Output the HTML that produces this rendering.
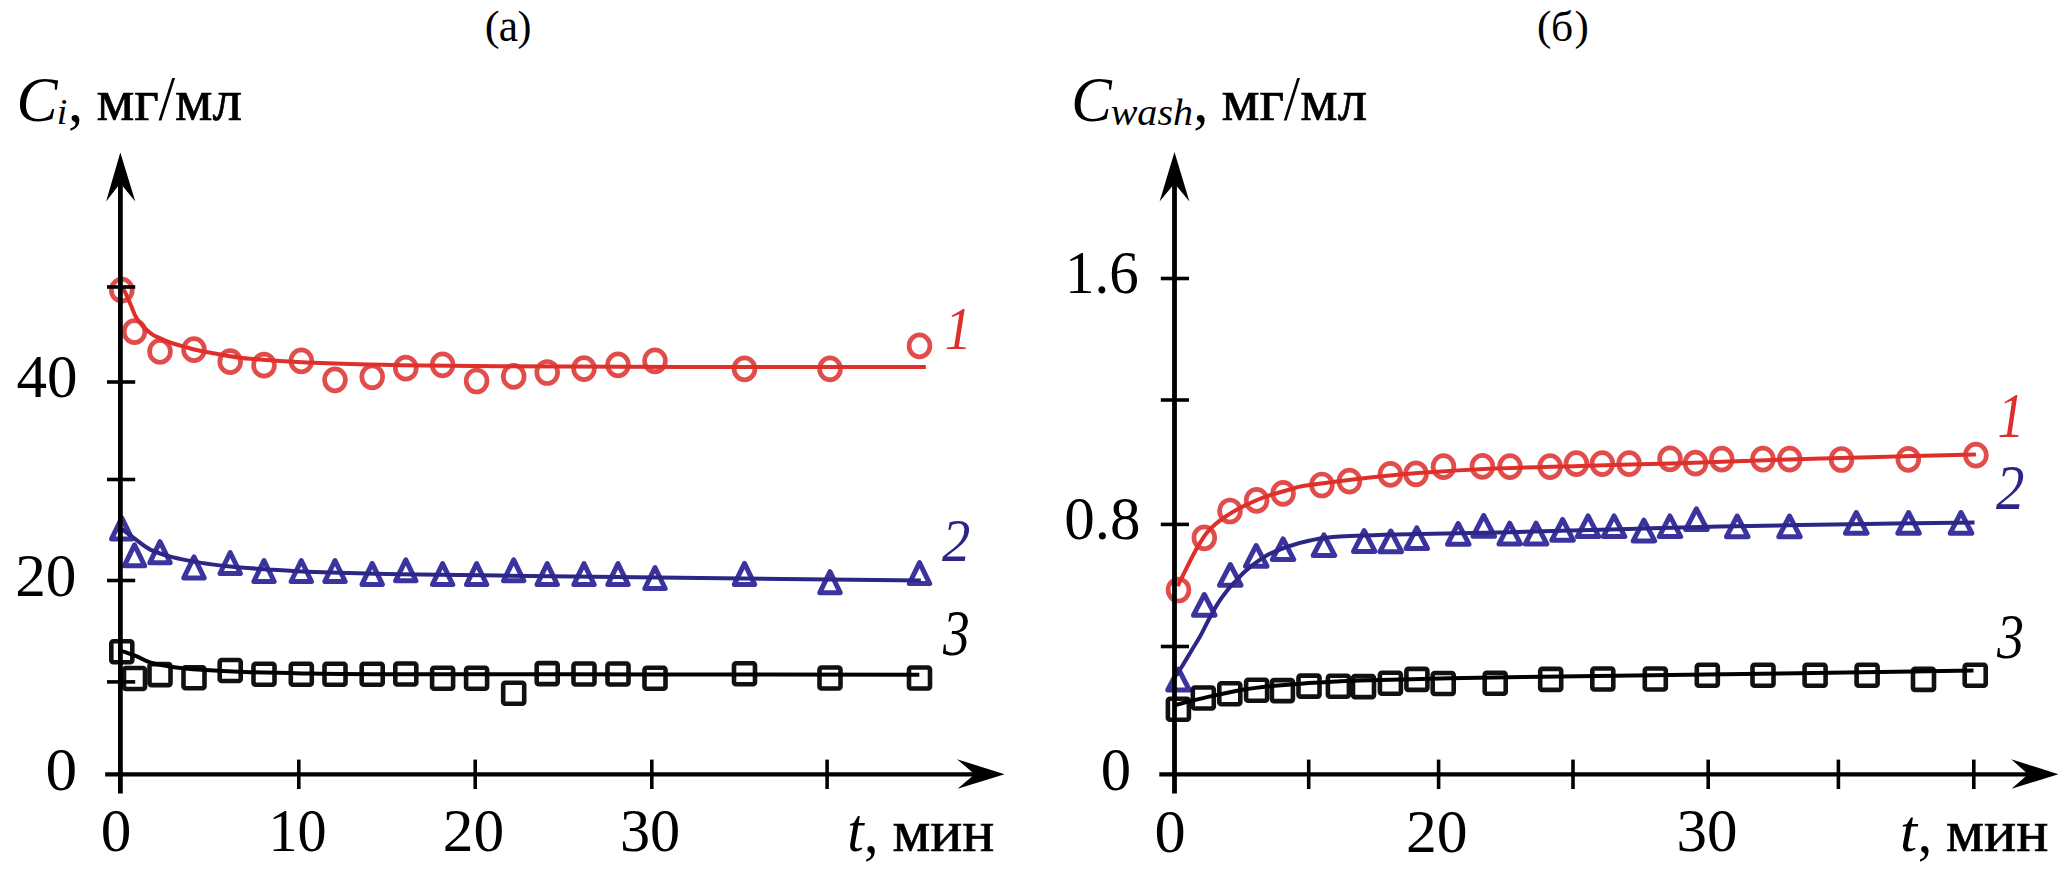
<!DOCTYPE html><html><head><meta charset="utf-8"><title>Chart</title><style>
html,body{margin:0;padding:0;background:#fff;}
svg{display:block;}
text{font-family:"Liberation Serif","Times New Roman",serif;}
</style></head><body>
<svg width="2072" height="870" viewBox="0 0 2072 870">
<rect width="2072" height="870" fill="#fff"/>
<g fill="none" stroke="#e04d4a" stroke-width="4.7">
<ellipse cx="121.8" cy="290.2" rx="10.4" ry="11.0"/>
<ellipse cx="134.5" cy="331.6" rx="10.4" ry="11.0"/>
<ellipse cx="160.0" cy="351.4" rx="10.4" ry="11.0"/>
<ellipse cx="194.0" cy="349.7" rx="10.4" ry="11.0"/>
<ellipse cx="230.2" cy="361.7" rx="10.4" ry="11.0"/>
<ellipse cx="264.0" cy="365.2" rx="10.4" ry="11.0"/>
<ellipse cx="301.3" cy="360.9" rx="10.4" ry="11.0"/>
<ellipse cx="335.0" cy="379.8" rx="10.4" ry="11.0"/>
<ellipse cx="372.2" cy="376.8" rx="10.4" ry="11.0"/>
<ellipse cx="405.8" cy="368.2" rx="10.4" ry="11.0"/>
<ellipse cx="442.6" cy="364.8" rx="10.4" ry="11.0"/>
<ellipse cx="476.6" cy="381.0" rx="10.4" ry="11.0"/>
<ellipse cx="513.7" cy="376.4" rx="10.4" ry="11.0"/>
<ellipse cx="547.2" cy="372.5" rx="10.4" ry="11.0"/>
<ellipse cx="584.0" cy="368.6" rx="10.4" ry="11.0"/>
<ellipse cx="618.0" cy="364.8" rx="10.4" ry="11.0"/>
<ellipse cx="655.0" cy="360.9" rx="10.4" ry="11.0"/>
<ellipse cx="744.5" cy="368.9" rx="10.4" ry="11.0"/>
<ellipse cx="830.0" cy="368.9" rx="10.4" ry="11.0"/>
<ellipse cx="919.5" cy="345.9" rx="10.4" ry="11.0"/>
</g>
<g fill="none" stroke="#3c349e" stroke-width="5.0" stroke-linejoin="round">
<path d="M121.8,517.9L132.0,538.9L111.6,538.9Z"/>
<path d="M134.5,544.8L144.7,565.8L124.3,565.8Z"/>
<path d="M160.0,541.7L170.2,562.7L149.8,562.7Z"/>
<path d="M194.0,556.9L204.2,577.9L183.8,577.9Z"/>
<path d="M230.2,552.5L240.4,573.5L220.0,573.5Z"/>
<path d="M264.0,560.5L274.2,581.5L253.8,581.5Z"/>
<path d="M301.3,560.5L311.5,581.5L291.1,581.5Z"/>
<path d="M335.0,560.5L345.2,581.5L324.8,581.5Z"/>
<path d="M372.2,563.4L382.4,584.4L362.0,584.4Z"/>
<path d="M405.8,559.8L416.0,580.8L395.6,580.8Z"/>
<path d="M442.6,563.6L452.8,584.6L432.4,584.6Z"/>
<path d="M476.6,563.6L486.8,584.6L466.4,584.6Z"/>
<path d="M513.7,559.8L523.9,580.8L503.5,580.8Z"/>
<path d="M547.2,563.6L557.4,584.6L537.0,584.6Z"/>
<path d="M584.0,563.6L594.2,584.6L573.8,584.6Z"/>
<path d="M618.0,563.6L628.2,584.6L607.8,584.6Z"/>
<path d="M655.0,567.5L665.2,588.5L644.8,588.5Z"/>
<path d="M744.5,563.4L754.7,584.4L734.3,584.4Z"/>
<path d="M830.0,571.7L840.2,592.7L819.8,592.7Z"/>
<path d="M919.5,562.6L929.7,583.6L909.3,583.6Z"/>
</g>
<g fill="none" stroke="#111" stroke-width="4.6" stroke-linejoin="round">
<rect x="111.3" y="641.2" width="21.0" height="21.0" rx="2"/>
<rect x="124.0" y="668.0" width="21.0" height="21.0" rx="2"/>
<rect x="149.5" y="664.1" width="21.0" height="21.0" rx="2"/>
<rect x="183.5" y="667.3" width="21.0" height="21.0" rx="2"/>
<rect x="219.7" y="660.0" width="21.0" height="21.0" rx="2"/>
<rect x="253.5" y="663.7" width="21.0" height="21.0" rx="2"/>
<rect x="290.8" y="663.7" width="21.0" height="21.0" rx="2"/>
<rect x="324.5" y="663.7" width="21.0" height="21.0" rx="2"/>
<rect x="361.7" y="663.8" width="21.0" height="21.0" rx="2"/>
<rect x="395.3" y="663.5" width="21.0" height="21.0" rx="2"/>
<rect x="432.1" y="667.7" width="21.0" height="21.0" rx="2"/>
<rect x="466.1" y="667.7" width="21.0" height="21.0" rx="2"/>
<rect x="503.2" y="682.8" width="21.0" height="21.0" rx="2"/>
<rect x="536.7" y="663.1" width="21.0" height="21.0" rx="2"/>
<rect x="573.5" y="663.5" width="21.0" height="21.0" rx="2"/>
<rect x="607.5" y="663.5" width="21.0" height="21.0" rx="2"/>
<rect x="644.5" y="667.7" width="21.0" height="21.0" rx="2"/>
<rect x="734.0" y="663.3" width="21.0" height="21.0" rx="2"/>
<rect x="819.5" y="667.5" width="21.0" height="21.0" rx="2"/>
<rect x="909.0" y="667.5" width="21.0" height="21.0" rx="2"/>
</g>
<g fill="none" stroke="#e04d4a" stroke-width="4.7">
<ellipse cx="1178.5" cy="590.0" rx="10.4" ry="11.0"/>
<ellipse cx="1204.3" cy="537.8" rx="10.4" ry="11.0"/>
<ellipse cx="1230.0" cy="511.0" rx="10.4" ry="11.0"/>
<ellipse cx="1256.6" cy="500.4" rx="10.4" ry="11.0"/>
<ellipse cx="1283.1" cy="493.3" rx="10.4" ry="11.0"/>
<ellipse cx="1321.9" cy="485.0" rx="10.4" ry="11.0"/>
<ellipse cx="1349.4" cy="481.2" rx="10.4" ry="11.0"/>
<ellipse cx="1390.4" cy="474.4" rx="10.4" ry="11.0"/>
<ellipse cx="1416.0" cy="473.9" rx="10.4" ry="11.0"/>
<ellipse cx="1443.5" cy="466.7" rx="10.4" ry="11.0"/>
<ellipse cx="1482.4" cy="466.4" rx="10.4" ry="11.0"/>
<ellipse cx="1510.0" cy="466.6" rx="10.4" ry="11.0"/>
<ellipse cx="1550.1" cy="466.6" rx="10.4" ry="11.0"/>
<ellipse cx="1576.4" cy="463.6" rx="10.4" ry="11.0"/>
<ellipse cx="1602.3" cy="463.6" rx="10.4" ry="11.0"/>
<ellipse cx="1629.1" cy="463.6" rx="10.4" ry="11.0"/>
<ellipse cx="1670.0" cy="458.8" rx="10.4" ry="11.0"/>
<ellipse cx="1695.5" cy="463.2" rx="10.4" ry="11.0"/>
<ellipse cx="1721.8" cy="459.2" rx="10.4" ry="11.0"/>
<ellipse cx="1762.9" cy="459.2" rx="10.4" ry="11.0"/>
<ellipse cx="1789.7" cy="459.2" rx="10.4" ry="11.0"/>
<ellipse cx="1841.5" cy="459.5" rx="10.4" ry="11.0"/>
<ellipse cx="1908.3" cy="459.3" rx="10.4" ry="11.0"/>
<ellipse cx="1975.9" cy="455.2" rx="10.4" ry="11.0"/>
</g>
<g fill="none" stroke="#3c349e" stroke-width="5.0" stroke-linejoin="round">
<path d="M1178.6,669.2L1189.3,690.0L1167.8,690.0Z"/>
<path d="M1204.3,594.5L1215.0,615.2L1193.5,615.2Z"/>
<path d="M1230.3,564.5L1241.0,585.2L1219.5,585.2Z"/>
<path d="M1256.2,545.5L1267.0,566.2L1245.5,566.2Z"/>
<path d="M1283.1,538.9L1293.8,559.6L1272.3,559.6Z"/>
<path d="M1323.9,534.8L1334.7,555.5L1313.2,555.5Z"/>
<path d="M1364.2,530.6L1375.0,551.4L1353.5,551.4Z"/>
<path d="M1390.8,531.0L1401.5,551.7L1380.0,551.7Z"/>
<path d="M1416.8,527.8L1427.5,548.5L1406.0,548.5Z"/>
<path d="M1458.2,523.5L1469.0,544.2L1447.5,544.2Z"/>
<path d="M1483.7,515.5L1494.5,536.2L1473.0,536.2Z"/>
<path d="M1509.7,523.1L1520.5,543.9L1499.0,543.9Z"/>
<path d="M1536.1,523.2L1546.8,544.0L1525.3,544.0Z"/>
<path d="M1562.6,519.5L1573.3,540.2L1551.8,540.2Z"/>
<path d="M1588.1,515.9L1598.8,536.6L1577.3,536.6Z"/>
<path d="M1614.1,515.9L1624.8,536.6L1603.3,536.6Z"/>
<path d="M1643.9,520.1L1654.7,540.9L1633.2,540.9Z"/>
<path d="M1669.9,515.9L1680.7,536.6L1659.2,536.6Z"/>
<path d="M1696.4,508.8L1707.2,529.5L1685.7,529.5Z"/>
<path d="M1737.2,516.0L1748.0,536.7L1726.5,536.7Z"/>
<path d="M1789.5,516.0L1800.2,536.7L1778.8,536.7Z"/>
<path d="M1856.3,512.5L1867.0,533.2L1845.5,533.2Z"/>
<path d="M1908.6,512.5L1919.3,533.2L1897.8,533.2Z"/>
<path d="M1961.0,512.5L1971.8,533.2L1950.2,533.2Z"/>
</g>
<g fill="none" stroke="#111" stroke-width="4.6" stroke-linejoin="round">
<rect x="1167.9" y="698.7" width="21.0" height="21.0" rx="2"/>
<rect x="1192.8" y="687.5" width="21.0" height="21.0" rx="2"/>
<rect x="1219.3" y="683.3" width="21.0" height="21.0" rx="2"/>
<rect x="1246.1" y="679.8" width="21.0" height="21.0" rx="2"/>
<rect x="1271.9" y="680.1" width="21.0" height="21.0" rx="2"/>
<rect x="1298.5" y="675.6" width="21.0" height="21.0" rx="2"/>
<rect x="1327.9" y="675.8" width="21.0" height="21.0" rx="2"/>
<rect x="1353.0" y="676.1" width="21.0" height="21.0" rx="2"/>
<rect x="1379.9" y="672.7" width="21.0" height="21.0" rx="2"/>
<rect x="1406.4" y="668.9" width="21.0" height="21.0" rx="2"/>
<rect x="1432.7" y="673.0" width="21.0" height="21.0" rx="2"/>
<rect x="1484.7" y="672.7" width="21.0" height="21.0" rx="2"/>
<rect x="1540.2" y="668.9" width="21.0" height="21.0" rx="2"/>
<rect x="1592.3" y="668.5" width="21.0" height="21.0" rx="2"/>
<rect x="1644.8" y="668.5" width="21.0" height="21.0" rx="2"/>
<rect x="1696.8" y="664.8" width="21.0" height="21.0" rx="2"/>
<rect x="1752.5" y="664.8" width="21.0" height="21.0" rx="2"/>
<rect x="1804.6" y="664.8" width="21.0" height="21.0" rx="2"/>
<rect x="1856.6" y="664.8" width="21.0" height="21.0" rx="2"/>
<rect x="1913.0" y="668.9" width="21.0" height="21.0" rx="2"/>
<rect x="1964.7" y="664.8" width="21.0" height="21.0" rx="2"/>
</g>
<g fill="none" stroke-width="4" stroke-linecap="butt" stroke-linejoin="round">
<path stroke="#de2f2b" d="M122.5,288.5 C122.8,288.9 123.3,289.0 124.2,290.6 C125.1,292.2 126.7,295.7 127.9,298.4 C129.1,301.1 130.3,303.9 131.5,306.7 C132.7,309.4 133.6,312.4 134.8,314.9 C136.0,317.3 137.3,319.2 138.9,321.4 C140.5,323.5 142.2,325.7 144.4,327.8 C146.6,329.9 149.4,332.5 151.8,334.2 C154.2,335.9 156.1,336.5 159.1,337.9 C162.1,339.3 166.0,341.1 170.1,342.5 C174.2,343.9 179.3,345.3 183.9,346.6 C188.5,347.9 192.5,349.2 197.7,350.3 C202.9,351.4 208.3,352.3 215.0,353.5 C221.7,354.7 228.3,356.2 237.9,357.4 C247.5,358.6 260.9,359.7 272.4,360.6 C283.9,361.5 292.5,362.0 306.9,362.6 C321.3,363.2 343.1,363.9 358.6,364.3 C374.1,364.7 376.4,364.9 400.0,365.2 C423.6,365.5 453.3,366.0 500.0,366.3 C546.7,366.6 609.0,366.9 680.0,367.0 C751.0,367.1 884.8,367.0 925.8,367.0"/>
<path stroke="#2c2687" d="M121.7,528.9 C123.6,530.4 128.5,534.1 133.3,537.6 C138.1,541.1 144.2,546.6 150.7,549.9 C157.2,553.1 164.0,554.9 172.4,557.1 C180.8,559.3 191.7,561.3 201.3,562.9 C211.0,564.5 219.4,565.4 230.3,566.5 C241.2,567.6 254.4,568.5 266.5,569.4 C278.6,570.2 289.4,571.0 302.7,571.6 C316.0,572.2 329.9,572.5 346.1,573.0 C362.3,573.5 374.4,573.9 400.0,574.3 C425.6,574.7 453.3,575.0 500.0,575.6 C546.7,576.2 609.9,577.0 680.0,577.8 C750.1,578.6 880.8,580.0 920.9,580.4"/>
<path stroke="#000" d="M121.7,651.0 C124.1,651.9 131.4,654.2 136.2,656.1 C141.0,658.0 144.7,660.8 150.7,662.6 C156.7,664.4 164.0,665.7 172.4,666.9 C180.8,668.1 189.2,668.9 201.3,669.8 C213.4,670.6 227.9,671.4 244.8,672.0 C261.7,672.6 276.8,673.0 302.7,673.4 C328.6,673.8 340.4,674.1 400.0,674.3 C459.6,674.5 573.5,674.3 660.0,674.4 C746.5,674.5 876.1,674.7 919.3,674.7"/>
<path stroke="#de2f2b" d="M1177.6,586.1 C1178.9,583.6 1182.7,576.0 1185.2,570.9 C1187.7,565.8 1190.5,560.1 1192.8,555.7 C1195.1,551.3 1196.8,548.2 1199.1,544.4 C1201.4,540.6 1204.0,536.4 1206.7,533.0 C1209.5,529.6 1212.4,526.9 1215.6,524.1 C1218.8,521.4 1222.3,518.8 1225.7,516.5 C1229.1,514.2 1232.0,512.3 1235.8,510.2 C1239.6,508.1 1243.5,506.1 1248.4,503.9 C1253.3,501.7 1258.1,499.2 1265.0,496.8 C1271.9,494.4 1282.5,491.5 1290.0,489.5 C1297.5,487.5 1291.7,487.5 1310.0,485.0 C1328.3,482.5 1371.7,477.1 1400.0,474.5 C1428.3,471.9 1450.0,470.6 1480.0,469.2 C1510.0,467.8 1546.7,467.0 1580.0,466.0 C1613.3,465.0 1646.7,464.2 1680.0,463.2 C1713.3,462.2 1748.3,460.8 1780.0,459.8 C1811.7,458.8 1837.3,458.1 1870.0,457.2 C1902.7,456.3 1958.2,454.9 1975.9,454.5"/>
<path stroke="#2c2687" d="M1176.6,675.2 C1177.7,673.4 1180.9,668.2 1183.4,664.1 C1185.9,660.0 1188.9,654.9 1191.7,650.3 C1194.5,645.7 1197.2,641.6 1200.0,636.6 C1202.8,631.6 1205.3,626.0 1208.3,620.5 C1211.3,615.0 1214.5,608.8 1217.9,603.4 C1221.4,598.0 1225.8,592.3 1229.0,588.3 C1232.2,584.3 1234.4,582.5 1237.2,579.5 C1240.0,576.5 1241.3,574.4 1245.9,570.6 C1250.5,566.8 1258.5,560.4 1265.0,556.5 C1271.5,552.6 1277.5,550.2 1285.0,547.5 C1292.5,544.8 1300.8,542.3 1310.0,540.5 C1319.2,538.7 1321.7,537.6 1340.0,536.5 C1358.3,535.4 1391.7,534.7 1420.0,534.0 C1448.3,533.3 1476.7,533.0 1510.0,532.2 C1543.3,531.4 1585.0,530.1 1620.0,529.2 C1655.0,528.3 1681.7,527.4 1720.0,526.6 C1758.3,525.8 1807.6,524.9 1850.0,524.2 C1892.4,523.5 1953.8,522.7 1974.5,522.4"/>
<path stroke="#000" d="M1174.6,705.2 C1178.4,704.2 1190.2,701.2 1197.5,699.4 C1204.8,697.6 1210.7,696.3 1218.7,694.6 C1226.7,692.9 1236.5,690.7 1245.3,689.3 C1254.1,687.9 1262.1,687.1 1271.8,686.1 C1281.5,685.1 1293.1,684.1 1303.7,683.4 C1314.3,682.6 1326.1,682.1 1335.5,681.6 C1344.9,681.1 1340.9,681.2 1360.0,680.6 C1379.1,680.0 1416.7,678.9 1450.0,678.2 C1483.3,677.5 1523.3,677.1 1560.0,676.6 C1596.7,676.1 1633.3,675.5 1670.0,675.0 C1706.7,674.5 1745.0,673.9 1780.0,673.4 C1815.0,672.9 1847.8,672.5 1880.0,672.0 C1912.2,671.5 1957.9,670.8 1973.5,670.5"/>
</g>
<g stroke="#000" fill="none">
<line x1="120.4" y1="180" x2="120.4" y2="793.4" stroke-width="4.8"/>
<line x1="105.2" y1="774.3" x2="975" y2="774.3" stroke-width="4.3"/>
<line x1="107" y1="287.0" x2="135.2" y2="287.0" stroke-width="3.6"/>
<line x1="107" y1="382.0" x2="135.2" y2="382.0" stroke-width="3.6"/>
<line x1="107" y1="479.5" x2="135.2" y2="479.5" stroke-width="3.6"/>
<line x1="107" y1="580.5" x2="135.2" y2="580.5" stroke-width="3.6"/>
<line x1="107" y1="681.9" x2="135.2" y2="681.9" stroke-width="3.6"/>
<line x1="298.8" y1="759.6" x2="298.8" y2="789.0" stroke-width="3.6"/>
<line x1="475.2" y1="759.6" x2="475.2" y2="789.0" stroke-width="3.6"/>
<line x1="651.8" y1="759.6" x2="651.8" y2="789.0" stroke-width="3.6"/>
<line x1="827.1" y1="759.6" x2="827.1" y2="789.0" stroke-width="3.6"/>
</g>
<path d="M120.3,152.4 L135.3,201.4 L120.3,183.2 L106.1,201.4 Z" fill="#000"/>
<path d="M1004.6,774.2 L957.0,759.2 L974.6,774.2 L957.6,788.7 Z" fill="#000"/>
<g stroke="#000" fill="none">
<line x1="1174.5" y1="180" x2="1174.5" y2="793.4" stroke-width="4.8"/>
<line x1="1159.3" y1="774.3" x2="2030" y2="774.3" stroke-width="4.3"/>
<line x1="1160.8" y1="278.5" x2="1189" y2="278.5" stroke-width="3.6"/>
<line x1="1160.8" y1="400.0" x2="1189" y2="400.0" stroke-width="3.6"/>
<line x1="1160.8" y1="524.4" x2="1189" y2="524.4" stroke-width="3.6"/>
<line x1="1160.8" y1="646.5" x2="1189" y2="646.5" stroke-width="3.6"/>
<line x1="1308.7" y1="759.6" x2="1308.7" y2="789.0" stroke-width="3.6"/>
<line x1="1438.6" y1="759.6" x2="1438.6" y2="789.0" stroke-width="3.6"/>
<line x1="1573.0" y1="759.6" x2="1573.0" y2="789.0" stroke-width="3.6"/>
<line x1="1708.2" y1="759.6" x2="1708.2" y2="789.0" stroke-width="3.6"/>
<line x1="1838.4" y1="759.6" x2="1838.4" y2="789.0" stroke-width="3.6"/>
<line x1="1973.8" y1="759.6" x2="1973.8" y2="789.0" stroke-width="3.6"/>
</g>
<path d="M1174.5,152.1 L1189.4,201.6 L1174.5,183.6 L1159.6,201.6 Z" fill="#000"/>
<path d="M2058.4,774.3 L2011.2,759.2 L2028.0,774.3 L2011.6,788.7 Z" fill="#000"/>
<text transform="translate(484.87 40.09) scale(1.0133 0.9635)" font-size="44">(</text>
<text transform="translate(498.82 41.18) scale(0.9886 1.0333)" font-size="44">а</text>
<text transform="translate(517.57 40.09) scale(0.9511 0.9635)" font-size="44">)</text>
<text transform="translate(1537.04 40.09) scale(0.9778 0.9635)" font-size="44">(</text>
<text transform="translate(1551.12 41.22) scale(0.9920 0.9594)" font-size="44">б</text>
<text transform="translate(1574.43 40.09) scale(0.9778 0.9635)" font-size="44">)</text>
<text transform="translate(16.41 120.50) scale(0.9696 0.9953)" font-size="63.5" font-style="italic">C</text>
<text transform="translate(56.83 123.90) scale(1.0000 0.9663)" font-size="38" font-style="italic">i</text>
<text transform="translate(67.98 120.95) scale(1.0000 1.0000)" font-size="61">,</text>
<text transform="translate(96.43 119.60) scale(0.9818 0.9607)" font-size="61" stroke="#000" stroke-width="0.7">мг</text>
<text transform="translate(158.40 120.08) scale(0.9765 1.0479)" font-size="61">/</text>
<text transform="translate(175.04 119.72) scale(0.9721 0.9649)" font-size="61" stroke="#000" stroke-width="0.7">мл</text>
<text transform="translate(1071.35 120.50) scale(0.9570 1.0000)" font-size="63.5" font-style="italic">C</text>
<text transform="translate(1110.65 124.55) scale(1.0543 1.0189)" font-size="38" font-style="italic">wash</text>
<text transform="translate(1193.22 121.15) scale(1.0000 1.0000)" font-size="61">,</text>
<text transform="translate(1221.42 119.60) scale(0.9868 0.9607)" font-size="61" stroke="#000" stroke-width="0.7">мг</text>
<text transform="translate(1283.70 120.08) scale(0.9588 1.0479)" font-size="61">/</text>
<text transform="translate(1300.35 119.72) scale(0.9675 0.9649)" font-size="61" stroke="#000" stroke-width="0.7">мл</text>
<text transform="translate(16.45 397.00) scale(1.0000 1.0000)" font-size="61">40</text>
<text transform="translate(15.14 596.30) scale(1.0054 1.0000)" font-size="61">20</text>
<text transform="translate(45.46 790.10) scale(1.0385 1.0000)" font-size="61">0</text>
<text transform="translate(100.64 851.40) scale(1.0038 1.0000)" font-size="61">0</text>
<text transform="translate(268.39 851.20) scale(0.9551 1.0000)" font-size="61">10</text>
<text transform="translate(442.73 851.30) scale(1.0071 1.0000)" font-size="61">20</text>
<text transform="translate(619.93 851.30) scale(0.9883 1.0000)" font-size="61">30</text>
<text transform="translate(847.22 851.00) scale(0.9742 0.9986)" font-size="61" font-style="italic">t</text>
<text transform="translate(864.02 852.05) scale(0.9500 1.0000)" font-size="61">,</text>
<text transform="translate(892.43 850.70) scale(0.9812 0.9821)" font-size="61" stroke="#000" stroke-width="0.7">мин</text>
<text transform="translate(1065.12 292.55) scale(0.9675 1.0000)" font-size="61">1.6</text>
<text transform="translate(1064.25 538.95) scale(1.0007 1.0000)" font-size="61">0.8</text>
<text transform="translate(1100.86 790.20) scale(0.9962 1.0000)" font-size="61">0</text>
<text transform="translate(1154.40 851.60) scale(1.0231 1.0000)" font-size="61">0</text>
<text transform="translate(1405.92 851.50) scale(1.0107 1.0000)" font-size="61">20</text>
<text transform="translate(1676.60 851.40) scale(1.0009 1.0000)" font-size="61">30</text>
<text transform="translate(1899.93 851.21) scale(1.0065 0.9813)" font-size="61" font-style="italic">t</text>
<text transform="translate(1917.72 852.25) scale(0.9500 1.0000)" font-size="61">,</text>
<text transform="translate(1945.92 850.70) scale(0.9871 0.9750)" font-size="61" stroke="#000" stroke-width="0.7">мин</text>
<text transform="translate(944.65 348.60) scale(0.8800 1.0112)" font-size="61" font-style="italic" fill="#de2f2b">1</text>
<text transform="translate(942.10 560.70) scale(0.9299 1.0112)" font-size="61" font-style="italic" fill="#2c2687">2</text>
<text transform="translate(943.10 655.47) scale(0.8779 1.0577)" font-size="61" font-style="italic">3</text>
<text transform="translate(1997.40 436.70) scale(0.8800 1.0360)" font-size="61" font-style="italic" fill="#de2f2b">1</text>
<text transform="translate(1996.00 508.60) scale(0.9333 1.0360)" font-size="61" font-style="italic" fill="#2c2687">2</text>
<text transform="translate(1997.10 658.29) scale(0.8885 1.0233)" font-size="61" font-style="italic">3</text>
</svg></body></html>
